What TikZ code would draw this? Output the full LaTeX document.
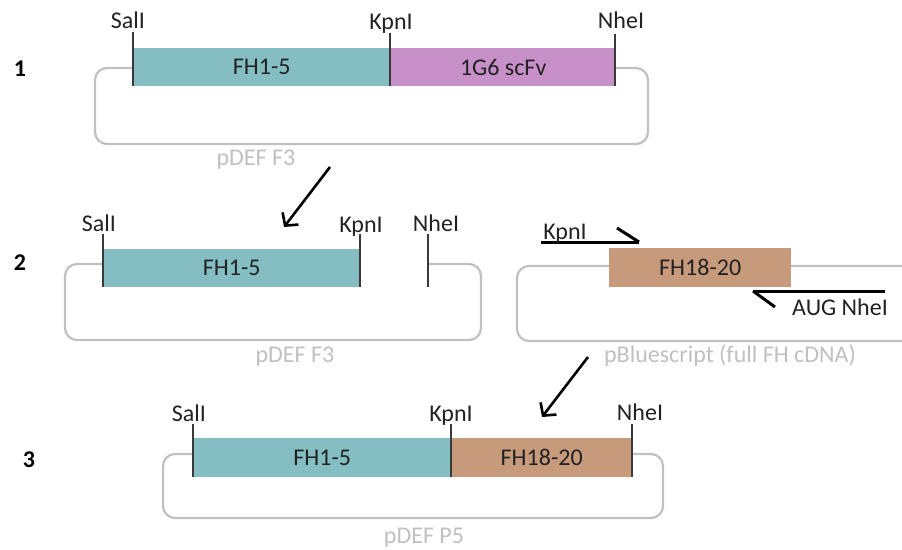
\documentclass[tikz,border=0pt]{standalone}
\usepackage{fontspec}
\setmainfont{Carlito}
\usetikzlibrary{arrows.meta}
\definecolor{plgray}{HTML}{C0C0C0}
\definecolor{tickgray}{HTML}{3A3A3A}
\definecolor{fhteal}{HTML}{84BEC2}
\definecolor{scpurple}{HTML}{C890C9}
\definecolor{fhbrown}{HTML}{C89A7C}
\definecolor{txtdark}{HTML}{222222}
\newcommand{\lbfont}{\fontsize{24}{28}\selectfont}
\begin{document}
\begin{tikzpicture}[x=1pt,y=-1pt,
  plasmid/.style={draw=plgray, line width=2.2pt, rounded corners=12pt},
  fragbox/.style={draw=none, inner sep=0pt, anchor=north west, text=txtdark, font=\lbfont},
  sitetick/.style={draw=tickgray, line width=1.3pt},
  lbl/.style={anchor=base, inner sep=0pt, text=txtdark, font=\lbfont},
  grylbl/.style={lbl, text=plgray},
  rownum/.style={inner sep=0pt, text=black, font=\lbfont\bfseries},
  primer/.style={draw=black, line width=3pt},
  steparrow/.style={draw=black, line width=2.6pt, -{Straight Barb[length=9pt,width=20pt]}}
]
\useasboundingbox (0,0) rectangle (902,549);
\clip (0,0) rectangle (902,549);

% ---------- Row 1 ----------
\node[rownum] (n1) at (20,69) {1};
\draw[plasmid] (95,68) rectangle (648,144);
\node[fragbox, fill=fhteal, minimum width=257pt, minimum height=38pt] (fa) at (133,48) {FH1-5};
\node[fragbox, fill=scpurple, minimum width=226pt, minimum height=38pt] (sc) at (390,48) {1G6 scFv};
\draw[sitetick] (133,32) -- (133,86);
\draw[sitetick] (390,33) -- (390,86);
\draw[sitetick] (615,34) -- (615,86);
\node[lbl] (sal1) at (128,28) {SalI};
\node[lbl] (kpn1) at (391,29) {KpnI};
\node[lbl] (nhe1) at (621,28) {NheI};
\node[grylbl] (pdef1) at (256,165) {pDEF F3};

\coordinate (a1s) at (330,167);
\coordinate (a1e) at (284,227);
\draw[steparrow] (a1s) -- (a1e);

% ---------- Row 2 ----------
\node[rownum] (n2) at (20,263) {2};
\draw[plasmid] (428,264) -- (481,264) -- (481,340) -- (65,340) -- (65,264) -- (103,264);
\node[fragbox, fill=fhteal, minimum width=257pt, minimum height=38pt] (fb) at (103,249) {FH1-5};
\draw[sitetick] (103,234) -- (103,287);
\draw[sitetick] (360,234) -- (360,287);
\draw[sitetick] (428,234) -- (428,287);
\node[lbl] (sal2) at (99,231) {SalI};
\node[lbl] (kpn2) at (361,232) {KpnI};
\node[lbl] (nhe2) at (436,231) {NheI};
\node[grylbl] (pdef2) at (295,362) {pDEF F3};

\draw[plasmid] (517,266) rectangle (940,341);
\node[fragbox, fill=fhbrown, minimum width=182pt, minimum height=39pt] (fc) at (609,248) {FH18-20};
\coordinate (p1a) at (541,242);
\coordinate (p1b) at (639,242);
\coordinate (p1c) at (617,228);
\draw[primer] (p1a) -- (p1b);
\draw[primer] (p1c) -- (p1b);
\node[lbl] (kpnp) at (565,239) {KpnI};
\coordinate (p2a) at (885,291);
\coordinate (p2b) at (753,291);
\coordinate (p2c) at (775,307);
\draw[primer] (p2a) -- (p2b);
\draw[primer] (p2b) -- (p2c);
\node[lbl] (nhep) at (840,315) {AUG NheI};
\node[grylbl] (pbs) at (730,362) {pBluescript (full FH cDNA)};

\coordinate (a2s) at (588,357);
\coordinate (a2e) at (542,417);
\draw[steparrow] (a2s) -- (a2e);

% ---------- Row 3 ----------
\node[rownum] (n3) at (29,460) {3};
\draw[plasmid] (163,454) rectangle (663,518);
\node[fragbox, fill=fhteal, minimum width=258pt, minimum height=39pt] (fd) at (193,438) {FH1-5};
\node[fragbox, fill=fhbrown, minimum width=181pt, minimum height=39pt] (fe) at (451,438) {FH18-20};
\draw[sitetick] (193,424) -- (193,477);
\draw[sitetick] (451,424) -- (451,477);
\draw[sitetick] (632,424) -- (632,477);
\node[lbl] (sal3) at (189,421) {SalI};
\node[lbl] (kpn3) at (451,421) {KpnI};
\node[lbl] (nhe3) at (640,420) {NheI};
\node[grylbl] (pdef3) at (424,543) {pDEF P5};
\end{tikzpicture}
\end{document}
